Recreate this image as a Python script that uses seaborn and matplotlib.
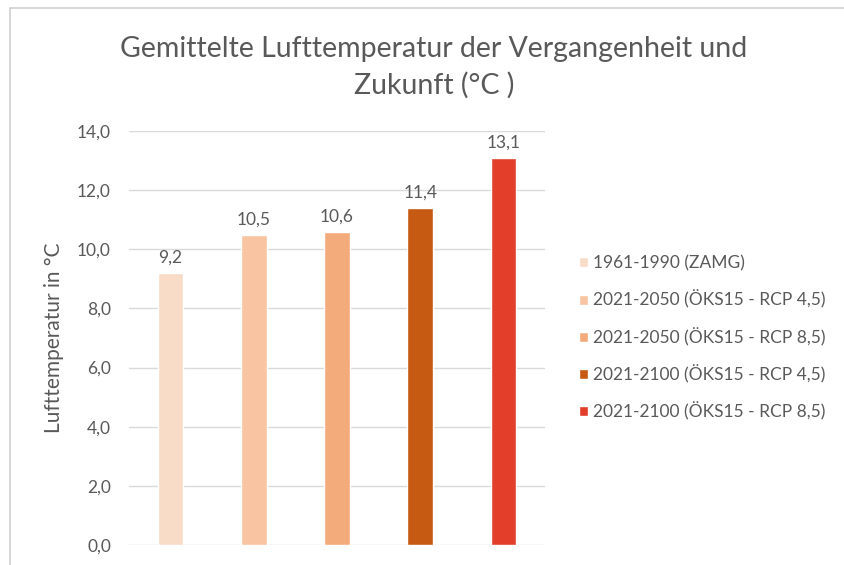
import matplotlib
matplotlib.use("Agg")
import matplotlib.pyplot as plt
import seaborn as sns
import pandas as pd
from matplotlib.patches import Rectangle

series = ["1961-1990 (ZAMG)",
          "2021-2050 (ÖKS15 - RCP 4,5)",
          "2021-2050 (ÖKS15 - RCP 8,5)",
          "2021-2100 (ÖKS15 - RCP 4,5)",
          "2021-2100 (ÖKS15 - RCP 8,5)"]
values = [9.2, 10.5, 10.6, 11.4, 13.1]
colors = ["#F9DCC8", "#F8C4A2", "#F4AB7C", "#C65A12", "#E33E2A"]
yticks = [0, 2, 4, 6, 8, 10, 12, 14]
title = "Gemittelte Lufttemperatur der Vergangenheit und\nZukunft (°C )"
ylabel = "Lufttemperatur in °C"

sns.set_theme(style="white")
plt.rcParams['font.family'] = ['Lato', 'DejaVu Sans']
txt = "#595959"

df = pd.DataFrame({"series": series, "value": values})
fig = plt.figure(figsize=(8.44, 5.65), dpi=100)
ax = fig.add_axes([129/844, 1-545/565, (545-129)/844, (545-131)/565])
sns.barplot(data=df, x="series", y="value", hue="series", palette=colors,
            width=0.31, dodge=False, legend=True, ax=ax, saturation=1)

ax.set_ylim(0, 14)
ax.set_yticks(yticks)
ax.set_yticklabels([f"{t:.1f}".replace(".", ",") for t in yticks], color=txt, fontsize=12.5)
ax.tick_params(axis="y", length=0, pad=13)
ax.set_xticks([])
ax.set_xlabel("")
ax.set_ylabel(ylabel, color=txt, fontsize=15, labelpad=9)
ax.yaxis.grid(True, color="#D9D9D9", linewidth=1)
ax.set_axisbelow(True)
for s in ax.spines.values():
    s.set_visible(False)

for c in ax.containers:
    ax.bar_label(c, labels=[f"{v:.1f}".replace(".", ",") for v in c.datavalues],
                 color=txt, fontsize=12.5, padding=5)

leg = ax.get_legend()
handles, labels = ax.get_legend_handles_labels()
leg.remove()
fig.legend(handles, labels, loc="center left", bbox_to_anchor=(579/844, 1-338/565),
           frameon=False, fontsize=12.5, labelcolor=txt, handlelength=0.5, handleheight=0.5,
           handletextpad=0.3, labelspacing=1.08, borderaxespad=0, borderpad=0)

fig.text(434/844, 1-67/565, title, ha="center", va="center", fontsize=20.5,
         color=txt, linespacing=1.45)

fig.patches.append(Rectangle((10/844, -0.1), 1.2, 1-8/565+0.1, transform=fig.transFigure,
                             fill=False, edgecolor="#D0D0D0", linewidth=1.2))

fig.savefig("out.png", dpi=100)
